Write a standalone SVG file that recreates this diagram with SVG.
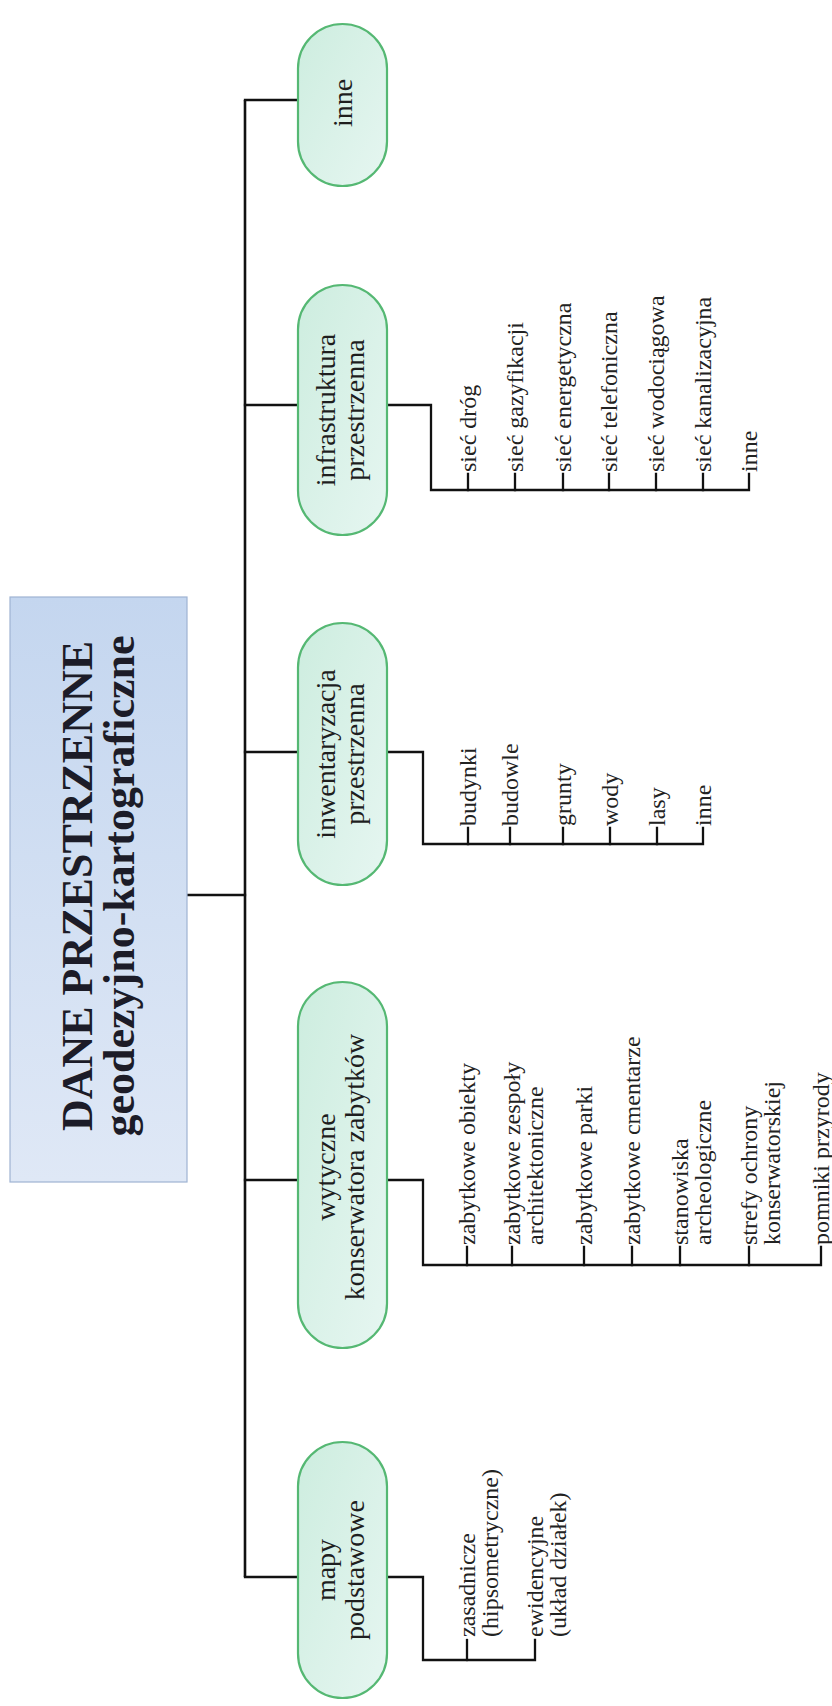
<svg xmlns="http://www.w3.org/2000/svg" width="832" height="1706" viewBox="0 0 832 1706">
<defs>
<linearGradient id="gTitle" x1="0" y1="0" x2="0" y2="1">
<stop offset="0" stop-color="#c4d6ef"/>
<stop offset="1" stop-color="#dfe8f6"/>
</linearGradient>
<linearGradient id="gNode" x1="0" y1="0" x2="1" y2="1">
<stop offset="0" stop-color="#cdeddf"/>
<stop offset="1" stop-color="#e6f6f1"/>
</linearGradient>
</defs>
<style>
.node{fill:url(#gNode);stroke:#55b873;stroke-width:2.2}
.nl{font-family:"Liberation Serif","Times New Roman",serif;font-size:28px;fill:#1e1e1e;text-anchor:middle}
.lf{font-family:"Liberation Serif","Times New Roman",serif;font-size:24px;fill:#222}
.tt{font-family:"Liberation Serif","Times New Roman",serif;font-size:44px;font-weight:bold;fill:#1c1c28;text-anchor:middle}
.ln{fill:none;stroke:#111;stroke-width:2.3;stroke-linejoin:miter;stroke-linecap:square}
.sp{fill:none;stroke:#111;stroke-width:2.6}
</style>
<rect width="832" height="1706" fill="#ffffff"/>

<g id="connectors">
<path class="sp" d="M245,100 V1577"/>
<path class="ln" d="M187,895 H245"/>
<path class="ln" d="M245,100 H298"/>
<path class="ln" d="M245,405 H298"/>
<path class="ln" d="M245,752 H298"/>
<path class="ln" d="M245,1180 H298"/>
<path class="ln" d="M245,1577 H298"/>
<path class="ln" d="M387,405 H431 V490 H749 V474"/>
<path class="ln" d="M468,490 V474 M515,490 V474 M563,490 V474 M609,490 V474 M656,490 V474 M703,490 V474"/>
<path class="ln" d="M387,752 H423 V844 H703 V828"/>
<path class="ln" d="M468,844 V828 M510,844 V828 M563,844 V828 M610,844 V828 M657,844 V828"/>
<path class="ln" d="M387,1180 H423 V1265 H821 V1247"/>
<path class="ln" d="M467,1265 V1247 M512,1265 V1247 M584,1265 V1247 M632,1265 V1247 M680,1265 V1247 M749,1265 V1247"/>
<path class="ln" d="M387,1577 H423 V1660 H535 V1640"/>
<path class="ln" d="M467,1660 V1640"/>
</g>

<g id="title">
<rect x="10" y="597" width="177" height="585" fill="url(#gTitle)" stroke="#9fb3d3" stroke-width="1.2"/>
<text class="tt" transform="translate(0,886) rotate(-90)"><tspan x="0" y="92">DANE PRZESTRZENNE</tspan><tspan x="0" y="134">geodezyjno-kartograficzne</tspan></text>
</g>

<g id="node-inne">
<rect class="node" x="298" y="24" width="89" height="162" rx="44.5"/>
<text class="nl" transform="translate(342.5,103) rotate(-90)"><tspan x="0" y="9.5">inne</tspan></text>
</g>

<g id="node-infrastruktura">
<rect class="node" x="298" y="285" width="89" height="250" rx="44.5"/>
<text class="nl" transform="translate(342.5,410) rotate(-90)"><tspan x="0" y="-7.5">infrastruktura</tspan><tspan x="0" y="21.5">przestrzenna</tspan></text>
</g>

<g id="node-inwentaryzacja">
<rect class="node" x="298" y="623" width="89" height="262" rx="44.5"/>
<text class="nl" transform="translate(342.5,754) rotate(-90)"><tspan x="0" y="-7.5">inwentaryzacja</tspan><tspan x="0" y="21.5">przestrzenna</tspan></text>
</g>

<g id="node-wytyczne">
<rect class="node" x="298" y="982" width="89" height="366" rx="44.5"/>
<text class="nl" transform="translate(342.5,1167) rotate(-90)"><tspan x="0" y="-7.5">wytyczne</tspan><tspan x="0" y="21.5">konserwatora zabytków</tspan></text>
</g>

<g id="node-mapy">
<rect class="node" x="298" y="1442" width="89" height="256" rx="44.5"/>
<text class="nl" transform="translate(342.5,1570) rotate(-90)"><tspan x="0" y="-7.5">mapy</tspan><tspan x="0" y="21.5">podstawowe</tspan></text>
</g>

<g id="leaves-infrastruktura">
<text class="lf" transform="translate(476,472) rotate(-90)">sieć dróg</text>
<text class="lf" transform="translate(523,472) rotate(-90)">sieć gazyfikacji</text>
<text class="lf" transform="translate(571,472) rotate(-90)">sieć energetyczna</text>
<text class="lf" transform="translate(617,472) rotate(-90)">sieć telefoniczna</text>
<text class="lf" transform="translate(664,472) rotate(-90)">sieć wodociągowa</text>
<text class="lf" transform="translate(711,472) rotate(-90)">sieć kanalizacyjna</text>
<text class="lf" transform="translate(757,472) rotate(-90)">inne</text>
</g>

<g id="leaves-inwentaryzacja">
<text class="lf" transform="translate(476,826) rotate(-90)">budynki</text>
<text class="lf" transform="translate(518,826) rotate(-90)">budowle</text>
<text class="lf" transform="translate(571,826) rotate(-90)">grunty</text>
<text class="lf" transform="translate(618,826) rotate(-90)">wody</text>
<text class="lf" transform="translate(665,826) rotate(-90)">lasy</text>
<text class="lf" transform="translate(711,826) rotate(-90)">inne</text>
</g>

<g id="leaves-wytyczne">
<text class="lf" transform="translate(475,1245) rotate(-90)">zabytkowe obiekty</text>
<text class="lf" transform="translate(520,1245) rotate(-90)">zabytkowe zespoły<tspan x="0" dy="23">architektoniczne</tspan></text>
<text class="lf" transform="translate(592,1245) rotate(-90)">zabytkowe parki</text>
<text class="lf" transform="translate(640,1245) rotate(-90)">zabytkowe cmentarze</text>
<text class="lf" transform="translate(688,1245) rotate(-90)">stanowiska<tspan x="0" dy="23">archeologiczne</tspan></text>
<text class="lf" transform="translate(757,1245) rotate(-90)">strefy ochrony<tspan x="0" dy="23">konserwatorskiej</tspan></text>
<text class="lf" transform="translate(829,1245) rotate(-90)" fill="#555">pomniki przyrody</text>
</g>

<g id="leaves-mapy">
<text class="lf" transform="translate(475,1637) rotate(-90)">zasadnicze<tspan x="0" dy="23">(hipsometryczne)</tspan></text>
<text class="lf" transform="translate(543,1637) rotate(-90)">ewidencyjne<tspan x="0" dy="23">(układ działek)</tspan></text>
</g>
</svg>
